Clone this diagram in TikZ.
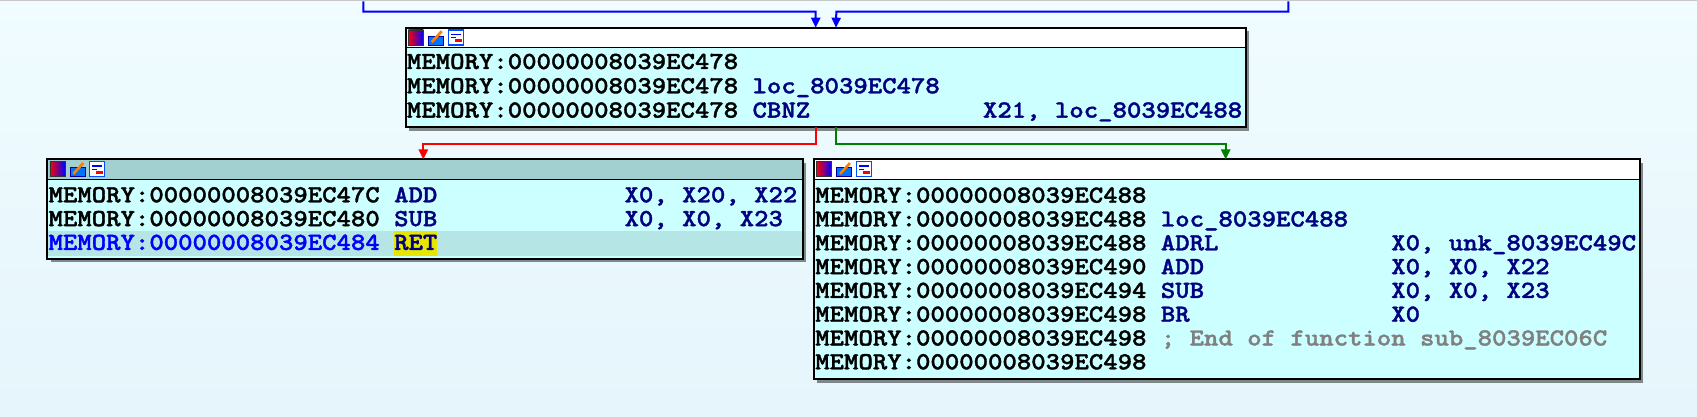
\documentclass[tikz,border=0pt]{standalone}
\usepackage{fontspec}
\usetikzlibrary{arrows.meta}
\usetikzlibrary{calc}
\usetikzlibrary{fit}
\usetikzlibrary{shadows}

\newfontfamily\asmfont{lmmonolt10-bold.otf}[FakeStretch=1.118,FakeBold=1.4]

\definecolor{bgtop}{HTML}{F0FCFF}
\definecolor{bgbot}{HTML}{E5F5FB}
\definecolor{blockfill}{HTML}{CCFFFF}
\definecolor{selbar}{HTML}{A2D0D0}
\definecolor{selrow}{HTML}{B6E5E5}
\definecolor{insn}{HTML}{000080}
\definecolor{cmt}{HTML}{808080}
\definecolor{retmark}{HTML}{E6E600}
\definecolor{flowblue}{HTML}{0000FF}
\definecolor{flowred}{HTML}{FF0000}
\definecolor{flowgreen}{HTML}{008000}

\newcommand\blockicons[1]{%
  \shadedraw [left color=red,middle color=green!80!black,right color=blue,draw=black!80,line width=0.6pt]
    ($(#1.north west)+(2.6,2.3)$) rectangle ++(15,15);
  \filldraw [fill=blue!55!cyan,draw=blue!60!black,line width=0.6pt]
    ($(#1.north west)+(22.6,8.3)$) rectangle ++(15,9);
  \draw [orange,line width=2pt] ($(#1.north west)+(26,14.5)$) -- ++(10,-11);
  \filldraw [fill=white,draw=blue!70!cyan,line width=0.8pt]
    ($(#1.north west)+(42.6,2.3)$) rectangle ++(15,15);
  \draw [blue,line width=0.8pt]
    ($(#1.north west)+(45,6.5)$) -- ++(10,0)
    ($(#1.north west)+(45,10)$) -- ++(5,0);
  \fill [red] ($(#1.north west)+(49,11.5)$) rectangle ++(7,3);
}

\begin{document}
\begin{tikzpicture}[x=0.75pt,y=-0.75pt,
    block/.style={draw,line width=1.5pt,fill=blockfill,rectangle,inner sep=0pt,outer sep=0pt,
      drop shadow={shadow xshift=2.5pt,shadow yshift=-2.5pt,fill=black,opacity=.45}},
    addr/.style={anchor=base west,inner sep=0pt,font=\asmfont\fontsize{18.4}{22}\selectfont},
    insn/.style={addr,text=insn},
    flow/.style={line width=1.5pt,-{Triangle[length=7.5pt,width=6.8pt]}}]

  \useasboundingbox (0,0) rectangle (1697,417);
  \shade [top color=bgtop,bottom color=bgbot] (0,0) rectangle (1697,417);
  \fill [black!22] (0,0) rectangle (1697,1.3);

  \coordinate (top_nw) at (405.7,27.7);
  \coordinate (top_se) at (1246,127.3);
  \coordinate (ret_nw) at (47.3,159.5);
  \coordinate (ret_se) at (802.5,258.8);
  \coordinate (jump_nw) at (814,159.5);
  \coordinate (jump_se) at (1640,379.3);
  \coordinate (in_left) at (363.3,1.3);
  \coordinate (in_right) at (1288.3,1.3);

  \node [block,fit=(top_nw) (top_se)] (top) {};
  \node [block,fit=(ret_nw) (ret_se)] (ret) {};
  \node [block,fit=(jump_nw) (jump_se)] (jump) {};

  \fill [white] ($(top.north west)+(1,1)$) rectangle ($(top.north east)+(-1,20)$);
  \fill [selbar] ($(ret.north west)+(1,1)$) rectangle ($(ret.north east)+(-1,20)$);
  \fill [white] ($(jump.north west)+(1,1)$) rectangle ($(jump.north east)+(-1,20)$);
  \draw [line width=1.2pt] ($(top.north west)+(0,20)$) -- ($(top.north east)+(0,20)$);
  \draw [line width=1.2pt] ($(ret.north west)+(0,20)$) -- ($(ret.north east)+(0,20)$);
  \draw [line width=1.2pt] ($(jump.north west)+(0,20)$) -- ($(jump.north east)+(0,20)$);
  \blockicons{top}
  \blockicons{ret}
  \blockicons{jump}

  \foreach \i in {1,2,3}
    \node [addr] (top_a\i) at ($(top.north west)+(1,{41.3+24.3*(\i-1)})$) {MEMORY:00000008039EC478};
  \node [insn] (top_loc) at ($(top_a2.base west)+(345.6,0)$) {loc\_8039EC478};
  \node [insn] (top_m3) at ($(top_a3.base west)+(345.6,0)$) {CBNZ};
  \node [insn] (top_o3) at ($(top_a3.base west)+(576,0)$) {X21, loc\_8039EC488};

  \fill [selrow] ($(ret.north west)+(1,72)$) rectangle ($(ret.north east)+(-1,96.8)$);
  \node [addr] (ret_a1) at ($(ret.north west)+(1,42.8)$) {MEMORY:00000008039EC47C};
  \node [addr] (ret_a2) at ($(ret.north west)+(1,66.6)$) {MEMORY:00000008039EC480};
  \node [addr,text=flowblue] (ret_a3) at ($(ret.north west)+(1,90.4)$) {MEMORY:00000008039EC484};
  \node [insn] (ret_m1) at ($(ret_a1.base west)+(345.6,0)$) {ADD};
  \node [insn] (ret_o1) at ($(ret_a1.base west)+(576,0)$) {X0, X20, X22};
  \node [insn] (ret_m2) at ($(ret_a2.base west)+(345.6,0)$) {SUB};
  \node [insn] (ret_o2) at ($(ret_a2.base west)+(576,0)$) {X0, X0, X23};
  \node [insn,fill=retmark,text height=13.8pt,text depth=4.6pt] (ret_m3) at ($(ret_a3.base west)+(345.6,0)$) {RET};

  \foreach \a [count=\i] in {488,488,488,490,494,498,498,498}
    \node [addr] (jump_a\i) at ($(jump.north west)+(1,{43.2+23.8*(\i-1)})$) {MEMORY:00000008039EC\a};
  \node [insn] (jump_loc) at ($(jump_a2.base west)+(345.6,0)$) {loc\_8039EC488};
  \node [insn] (jump_m3) at ($(jump_a3.base west)+(345.6,0)$) {ADRL};
  \node [insn] (jump_o3) at ($(jump_a3.base west)+(576,0)$) {X0, unk\_8039EC49C};
  \node [insn] (jump_m4) at ($(jump_a4.base west)+(345.6,0)$) {ADD};
  \node [insn] (jump_o4) at ($(jump_a4.base west)+(576,0)$) {X0, X0, X22};
  \node [insn] (jump_m5) at ($(jump_a5.base west)+(345.6,0)$) {SUB};
  \node [insn] (jump_o5) at ($(jump_a5.base west)+(576,0)$) {X0, X0, X23};
  \node [insn] (jump_m6) at ($(jump_a6.base west)+(345.6,0)$) {BR};
  \node [insn] (jump_o6) at ($(jump_a6.base west)+(576,0)$) {X0};
  \node [addr,text=cmt] (jump_c7) at ($(jump_a7.base west)+(345.6,0)$) {; End of function sub\_8039EC06C};

  \draw [flow,flowblue] (in_left) |- ++(452.4,10.4) -- ($(top.north west)+(410,0)$);
  \draw [flow,flowblue] (in_right) |- ++(-452,10.4) -- ($(top.north west)+(430.3,0)$);
  \draw [flow,flowred] ($(top.south west)+(410,0)$) -- ++(0,16.7) -| ($(ret.north west)+(376,0)$);
  \draw [flow,flowgreen] ($(top.south west)+(430.3,0)$) -- ++(0,16.7) -| ($(jump.north west)+(411.7,0)$);

\end{tikzpicture}
\end{document}
